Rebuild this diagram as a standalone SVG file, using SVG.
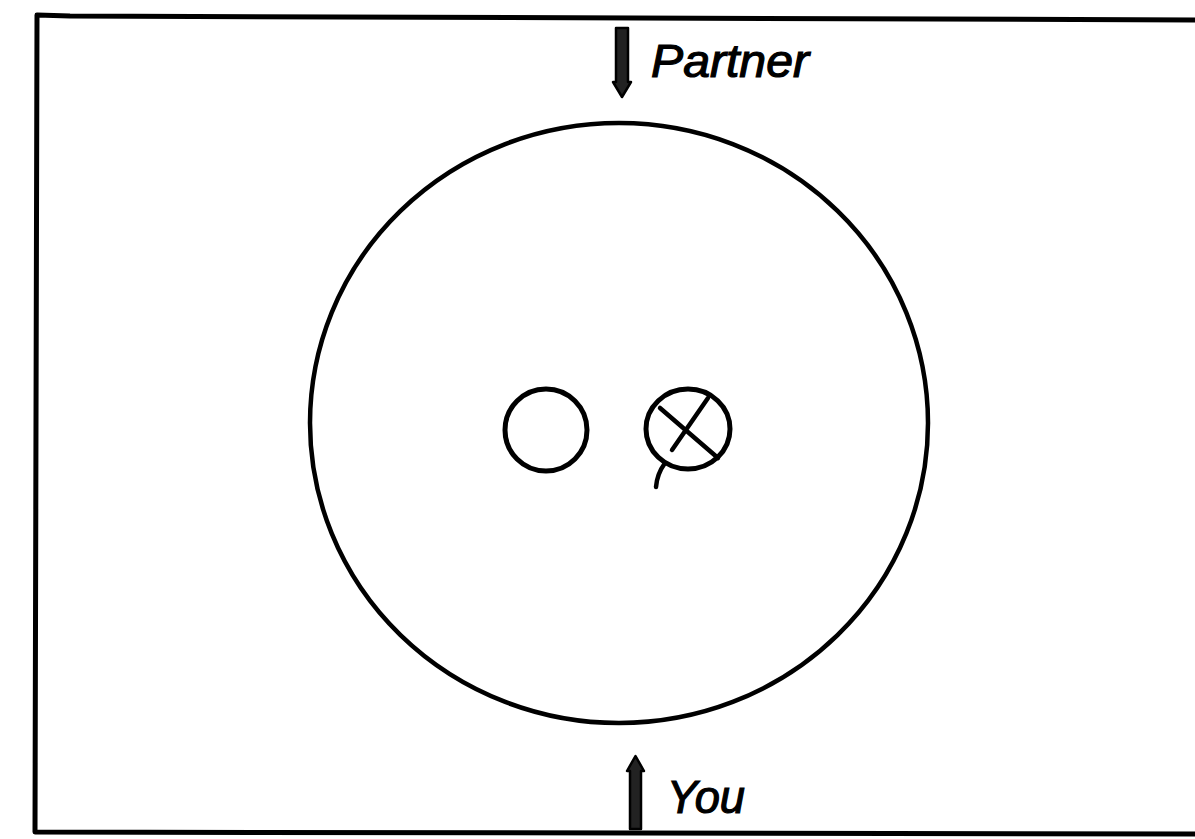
<svg xmlns="http://www.w3.org/2000/svg" width="1195" height="839" viewBox="0 0 1195 839">
<style>
.ln{fill:none;stroke:#000;stroke-linecap:round;stroke-linejoin:round}
.lbl{font-family:"Liberation Sans",Arial,sans-serif;font-style:italic;font-size:46px;fill:#000;stroke:#000;stroke-width:1.2}
.arr{fill:#222;stroke:#000;stroke-width:2.5;stroke-linejoin:round}
</style>
<rect width="1195" height="839" fill="#fff"/>
<g id="frame">
<path class="ln" stroke-width="5" d="M1200 20 L70 16 L37 15 L35 832 L1200 834"/>
</g>
<g id="table">
<ellipse class="ln" stroke-width="4.5" cx="619" cy="423" rx="309" ry="300"/>
</g>
<g id="ball-plain">
<circle class="ln" stroke-width="5" cx="546" cy="430" r="41"/>
</g>
<g id="ball-crossed">
<ellipse class="ln" stroke-width="5" cx="688" cy="429" rx="42" ry="40"/>
<path class="ln" stroke-width="4.5" d="M660 408 L718 458"/>
<path class="ln" stroke-width="4.5" d="M708 398 L672 450"/>
<path class="ln" stroke-width="4.5" d="M665 463 Q657 474 656 487"/>
</g>
<g id="partner">
<path class="arr" d="M616 28 L628 28 L628 82 L631 82 L622 97 L613 82 L616 82 Z"/>
<text class="lbl" x="651" y="77" textLength="158" lengthAdjust="spacingAndGlyphs">Partner</text>
</g>
<g id="you">
<path class="arr" d="M630 829 L641 829 L641 771 L644 771 L635.5 756 L627 771 L630 771 Z"/>
<text class="lbl" x="667" y="813" textLength="78" lengthAdjust="spacingAndGlyphs">You</text>
</g>
</svg>
